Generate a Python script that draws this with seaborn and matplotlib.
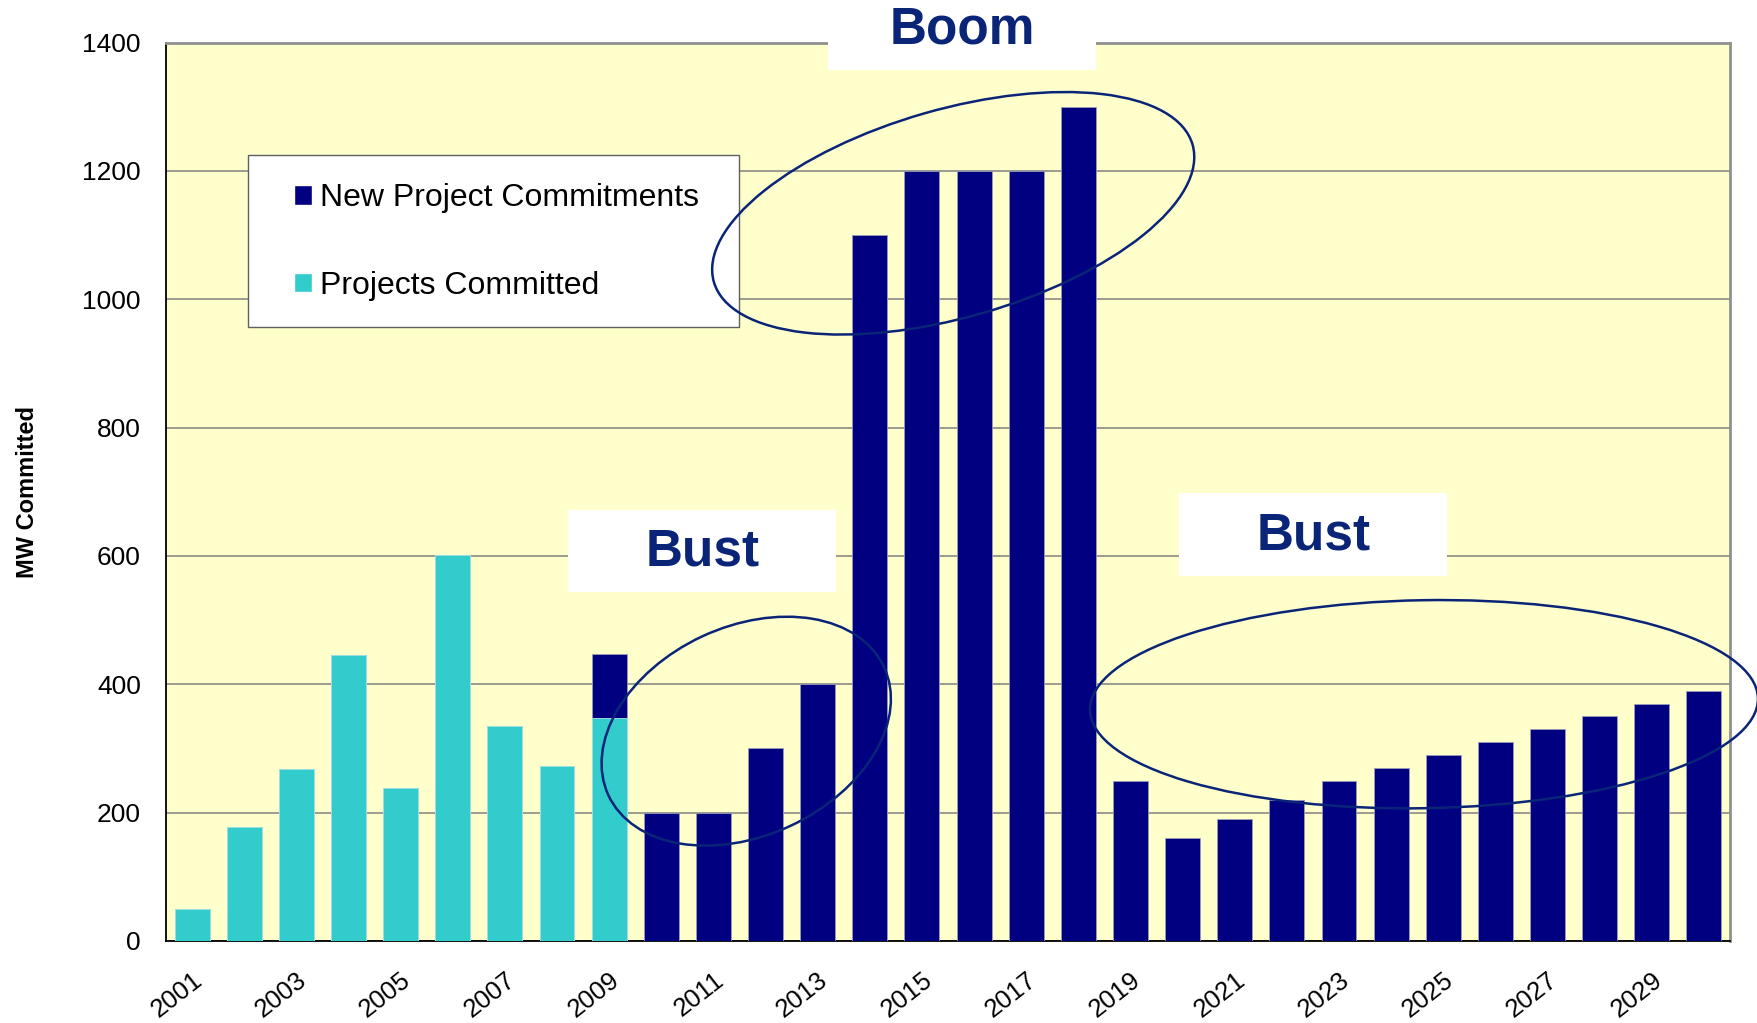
import numpy as np
import pandas as pd
import matplotlib
matplotlib.use('Agg')
import matplotlib.pyplot as plt
import matplotlib.transforms as mtransforms
from matplotlib.patches import Ellipse, Rectangle, Patch
import seaborn as sns

# data
years = [str(y) for y in range(2001, 2031)]
projects_committed = [50, 178, 268, 445, 238, 601, 335, 272, 348] + [0] * 21
new_commitments = [0] * 8 + [100, 200, 200, 300, 400, 1100, 1200, 1200, 1200, 1300,
                             250, 160, 190, 220, 250, 270, 290, 310, 330, 350, 370, 390]
y_ticks = [0, 200, 400, 600, 800, 1000, 1200, 1400]

NAVY = "#000080"
CYAN = "#33CCCC"
NOTE = "#0a2478"

df = pd.DataFrame({
    "year": years,
    "committed": projects_committed,
    "new": new_commitments,
})
df["total"] = df["committed"] + df["new"]

sns.set_style("white")
plt.rcParams['font.family'] = ['Liberation Sans', 'DejaVu Sans']
plt.rcParams['text.color'] = 'black'
plt.rcParams['axes.labelcolor'] = 'black'
plt.rcParams['xtick.labelcolor'] = 'black'
plt.rcParams['ytick.labelcolor'] = 'black'

W, H = 1758, 1023
fig = plt.figure(figsize=(W / 100, H / 100), dpi=100)
ax = fig.add_axes([166 / W, 1 - 941 / H, (1730 - 166) / W, (941 - 42.6) / H])
ax.set_facecolor("#FFFFCC")

# navy drawn to the stacked total, cyan over the bottom part
sns.barplot(data=df, x="year", y="total", color=NAVY, width=0.67, saturation=1,
            edgecolor="#9a9ab8", linewidth=0.6, ax=ax, zorder=3)
sns.barplot(data=df, x="year", y="committed", color=CYAN, width=0.67, saturation=1,
            edgecolor="#a8e8e8", linewidth=0.6, ax=ax, zorder=4)

ax.set_ylim(0, 1400)
ax.set_xlim(-0.5, len(years) - 0.5)
ax.set_yticks(y_ticks)
ax.yaxis.grid(True, color="#808080", linewidth=1.1, zorder=0)
ax.set_axisbelow(True)

ax.set_xticks(range(0, len(years), 2))
ax.set_xticklabels(years[::2], rotation=38, ha="right", va="top",
                   rotation_mode="anchor", fontsize=18.5)
ax.set_xticks(np.arange(-0.5, len(years), 1), minor=True)
ax.tick_params(axis="x", which="major", length=0, pad=19)
ax.tick_params(axis="x", which="minor", length=7, width=1, color="#808080")
ax.tick_params(axis="y", which="major", length=7, width=1, color="#808080", pad=11, labelsize=19)
ax.set_xlabel("")
ax.set_ylabel("MW Committed", fontsize=17, fontweight="bold")
ax.yaxis.set_label_coords(-0.081, 0.5)

for side in ["left", "bottom"]:
    ax.spines[side].set_color("black")
    ax.spines[side].set_linewidth(1.3)
for side in ["top", "right"]:
    ax.spines[side].set_color("#909090")
    ax.spines[side].set_linewidth(2)
    ax.spines[side].set_visible(True)

# legend box
fig.patches.append(Rectangle((248 / W, 1 - 327 / H), (739 - 248) / W, (327 - 155) / H,
                             transform=fig.transFigure, facecolor="white",
                             edgecolor="#606060", linewidth=1, zorder=5))
handles = [Patch(facecolor=NAVY, label="New Project Commitments"),
           Patch(facecolor=CYAN, label="Projects Committed")]
leg = fig.legend(handles=handles, loc="center left",
                 bbox_to_anchor=(278 / W, 1 - 242 / H), frameon=False,
                 fontsize=23, labelspacing=1.8, handlelength=0.55, handleheight=0.55,
                 handletextpad=0.25, borderpad=0)
leg.set_zorder(6)

# ellipses sized in inches around a data-space centre
def ring(cx, cy, w, h, angle):
    tr = fig.dpi_scale_trans + mtransforms.ScaledTranslation(cx, cy, ax.transData)
    e = Ellipse((0, 0), w, h, angle=angle, transform=tr, fill=False,
                edgecolor=NOTE, linewidth=1.8, clip_on=False, zorder=7)
    fig.add_artist(e)

ring(14.6, 1134, 4.98, 2.08, 16)
ring(10.63, 327, 3.04, 2.09, 25)
ring(23.63, 369, 6.68, 2.08, 1)

# white callout boxes
def callout(x0, x1, y0, y1, tx, ty, text):
    fig.patches.append(Rectangle((x0 / W, 1 - y1 / H), (x1 - x0) / W, (y1 - y0) / H,
                                 transform=fig.transFigure, facecolor="white",
                                 edgecolor="none", zorder=8))
    fig.text(tx / W, 1 - ty / H, text, ha="center", va="center", fontsize=37,
             fontweight="bold", color=NOTE, zorder=9)

callout(828, 1096, 0, 70, 962, 30, "Boom")
callout(568, 836, 510, 592, 703, 552, "Bust")
callout(1179, 1447, 493, 576, 1314, 536, "Bust")

fig.savefig("out.png", dpi=100)
